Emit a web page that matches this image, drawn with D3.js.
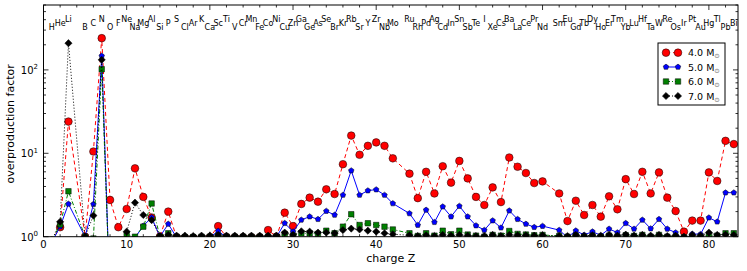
<!DOCTYPE html>
<html>
<head>
<meta charset="utf-8">
<script src="https://cdn.jsdelivr.net/npm/d3@7"></script>
<style>
  body { margin: 0; background: #fff; }
  text { font-family: "DejaVu Sans", sans-serif; }
</style>
</head>
<body>
<svg></svg>
<script>
// Figure size and plot box
const width = 747, height = 271;
const margin = { top: 5, right: 9, bottom: 34.3, left: 43.5 };

// Charge numbers (Be, Tc, Pm are absent) and element symbols
const charge = [1, 2, 3, 5, 6, 7, 8, 9, 10, 11, 12, 13, 14, 15, 16, 17, 18, 19, 20,
  21, 22, 23, 24, 25, 26, 27, 28, 29, 30, 31, 32, 33, 34, 35, 36, 37, 38, 39, 40,
  41, 42, 44, 45, 46, 47, 48, 49, 50, 51, 52, 53, 54, 55, 56, 57, 58, 59, 60,
  62, 63, 64, 65, 66, 67, 68, 69, 70, 71, 72, 73, 74, 75, 76, 77, 78, 79, 80,
  81, 82, 83];
const symbols = ["H", "He", "Li", "B", "C", "N", "O", "F", "Ne", "Na", "Mg", "Al",
  "Si", "P", "S", "Cl", "Ar", "K", "Ca", "Sc", "Ti", "V", "Cr", "Mn", "Fe", "Co",
  "Ni", "Cu", "Zn", "Ga", "Ge", "As", "Se", "Br", "Kr", "Rb", "Sr", "Y", "Zr",
  "Nb", "Mo", "Ru", "Rh", "Pd", "Ag", "Cd", "In", "Sn", "Sb", "Te", "I", "Xe",
  "Cs", "Ba", "La", "Ce", "Pr", "Nd", "Sm", "Eu", "Gd", "Tb", "Dy", "Ho", "Er",
  "Tm", "Yb", "Lu", "Hf", "Ta", "W", "Re", "Os", "Ir", "Pt", "Au", "Hg", "Tl",
  "Pb", "Bi"];

// Overproduction factors, one array per model
const m40 = [0.9, 1.3, 24, 1.0, 10.5, 240, 2.76, 1.3, 2.15, 6.6, 3.0, 1.7, 1.0, 2.0,
  0.98, 0.97, 0.97, 0.97, 0.98, 1.34, 0.99, 0.98, 0.98, 0.98, 0.98, 1.2, 1.0,
  1.94, 1.34, 2.47, 2.94, 2.63, 3.7, 3.25, 7.4, 16.3, 9.6, 12.3, 13.5, 12.3, 8.7,
  5.7, 2.9, 6.0, 3.3, 7.0, 4.45, 8.1, 5.0, 3.0, 2.4, 3.9, 2.6, 8.9, 6.9, 5.8, 4.4, 4.6,
  3.3, 1.54, 2.7, 1.82, 2.4, 1.74, 3.05, 2.13, 4.9, 3.25, 6.0, 3.3, 5.9, 2.94, 2.03,
  1.15, 1.56, 1.56, 5.9, 4.66, 14.1, 12.9];
const m50 = [0.86, 1.32, 2.47, 1.0, 2.45, 147, 0.17, 0.4, 0.8, 0.97, 1.35, 1.7, 1.0, 1.42,
  0.98, 0.97, 0.97, 0.97, 0.98, 1.17, 0.98, 0.98, 0.98, 0.98, 0.98, 1.02, 0.99,
  1.45, 1.15, 1.59, 1.74, 1.62, 2.03, 1.82, 3.16, 6.2, 3.16, 3.57, 3.67, 3.16, 2.5,
  1.9, 1.38, 2.09, 1.49, 2.29, 1.74, 2.33, 1.74, 1.36, 1.2, 1.56, 1.28, 2.05, 1.62, 1.42, 1.3, 1.34,
  1.2, 0.98, 1.18, 1.05, 1.15, 1.04, 1.24, 1.12, 1.45, 1.24, 1.59, 1.25, 1.62, 1.24, 1.12,
  0.9, 1.08, 1.07, 1.69, 1.51, 3.37, 3.37];
const m60 = [0.9, 1.4, 3.5, 1.0, 0.95, 102, 0.17, 0.4, 1.07, 1.0, 1.32, 2.5, 1.0, 1.1,
  1.0, 0.99, 0.99, 1.0, 1.0, 1.03, 1.0, 1.0, 1.0, 1.0, 1.0, 1.0, 1.0,
  1.08, 1.03, 1.1, 1.1, 1.08, 1.18, 1.1, 1.32, 1.86, 1.38, 1.45, 1.38, 1.32, 1.22,
  1.1, 1.02, 1.1, 1.03, 1.18, 1.07, 1.18, 1.06, 1.03, 1.0, 1.05, 1.03, 1.17, 1.08, 1.06, 1.04, 1.05,
  1.02, 1.0, 1.03, 1.0, 1.02, 1.0, 1.03, 1.0, 1.04, 1.02, 1.05, 1.0, 1.05, 1.0, 1.0,
  0.98, 1.0, 1.0, 1.05, 1.03, 1.1, 1.1];
const m70 = [0.9, 1.51, 209, 1.0, 1.79, 132, 0.17, 0.5, 1.15, 2.56, 1.82, 1.58, 1.02, 1.05,
  1.03, 1.03, 1.02, 1.03, 1.03, 1.05, 1.03, 1.03, 1.03, 1.03, 1.03, 1.03, 1.03,
  1.12, 1.05, 1.16, 1.15, 1.12, 1.12, 1.1, 1.2, 1.25, 1.22, 1.18, 1.15, 1.1, 1.07,
  1.04, 1.02, 1.04, 1.02, 1.05, 1.03, 1.05, 1.03, 1.02, 1.02, 1.05, 1.02, 1.05, 1.04, 1.04, 1.03, 1.04,
  1.02, 1.02, 1.05, 1.02, 1.04, 1.02, 1.05, 1.03, 1.06, 1.03, 1.05, 1.03, 1.05, 1.02, 1.03,
  1.0, 1.05, 1.03, 1.12, 1.05, 1.06, 1.05];

const masses = ["4.0", "5.0", "6.0", "7.0"];
const xTicks = [0, 10, 20, 30, 40, 50, 60, 70, 80];
const yTicks = [1, 10, 100];

const svg = d3.select("svg")
    .attr("width", width)
    .attr("height", height);

const x = d3.scaleLinear().domain([0, 83.5]).range([margin.left, width - margin.right]);
const y = d3.scaleLog().domain([1, 600]).range([height - margin.bottom, margin.top]);

// pentagon marker (matplotlib 'p')
function pentagon(r) {
    const pts = d3.range(5).map(i => {
        const a = -Math.PI / 2 + i * 2 * Math.PI / 5;
        return [r * Math.cos(a), r * Math.sin(a)];
    });
    return "M" + pts.map(p => p.join(",")).join("L") + "Z";
}

const series = [
    { values: m40, color: "#ff0000", dash: "4,3", shape: d3.symbol(d3.symbolCircle, 46)(), rot: 0 },
    { values: m50, color: "#0000ff", dash: null, shape: pentagon(2.9), rot: 0 },
    { values: m60, color: "#008000", dash: "4,2,1,2", shape: d3.symbol(d3.symbolSquare, 30)(), rot: 0 },
    { values: m70, color: "#000000", dash: "1,2", shape: d3.symbol(d3.symbolSquare, 26)(), rot: 45 }
];

svg.append("clipPath").attr("id", "plot")
  .append("rect")
    .attr("x", margin.left).attr("y", margin.top)
    .attr("width", width - margin.right - margin.left)
    .attr("height", height - margin.bottom - margin.top);

const plot = svg.append("g").attr("clip-path", "url(#plot)");

const line = d3.line()
    .x((d, i) => x(charge[i]))
    .y(d => y(d));

series.forEach(s => {
    plot.append("path")
        .attr("d", line(s.values))
        .attr("fill", "none")
        .attr("stroke", s.color)
        .attr("stroke-width", 1)
        .attr("stroke-dasharray", s.dash);
    plot.append("g").selectAll("path")
        .data(s.values)
        .join("path")
        .attr("d", s.shape)
        .attr("transform", (d, i) => `translate(${x(charge[i])},${y(d)}) rotate(${s.rot})`)
        .attr("fill", s.color)
        .attr("stroke", "#000")
        .attr("stroke-width", 0.5);
});

// element labels, staggered on three levels
const levels = [30, 26, 21.7];
svg.append("g").selectAll("text")
    .data(symbols)
    .join("text")
    .attr("x", (d, i) => x(charge[i]))
    .attr("y", (d, i) => levels[i % 3])
    .attr("text-anchor", "middle")
    .attr("font-size", 8)
    .text(d => d);

// frame
const x0 = margin.left, x1 = width - margin.right, y0 = height - margin.bottom, y1 = margin.top;
svg.append("rect")
    .attr("x", x0).attr("y", y1)
    .attr("width", x1 - x0).attr("height", y0 - y1)
    .attr("fill", "none").attr("stroke", "#000").attr("stroke-width", 1);

// ticks, inward on all sides
const ticks = svg.append("g").attr("stroke", "#000").attr("stroke-width", 0.8);
const xMinor = d3.range(0, 84, 2).filter(v => v % 10 !== 0);
const yMinor = [];
[1, 10, 100].forEach(b => d3.range(2, 10).forEach(k => { if (b * k <= 600) yMinor.push(b * k); }));

function xTick(v, len) {
    ticks.append("line").attr("x1", x(v)).attr("x2", x(v)).attr("y1", y0).attr("y2", y0 - len);
    ticks.append("line").attr("x1", x(v)).attr("x2", x(v)).attr("y1", y1).attr("y2", y1 + len);
}
function yTick(v, len) {
    ticks.append("line").attr("y1", y(v)).attr("y2", y(v)).attr("x1", x0).attr("x2", x0 + len);
    ticks.append("line").attr("y1", y(v)).attr("y2", y(v)).attr("x1", x1).attr("x2", x1 - len);
}
xTicks.forEach(v => xTick(v, 5));
xMinor.forEach(v => xTick(v, 2.5));
yTicks.forEach(v => yTick(v, 5));
yMinor.forEach(v => yTick(v, 2.5));

// tick labels
svg.append("g").selectAll("text")
    .data(xTicks)
    .join("text")
    .attr("x", d => x(d))
    .attr("y", y0 + 11.5)
    .attr("text-anchor", "middle")
    .attr("font-size", 10)
    .text(d => d);

const yl = svg.append("g").selectAll("text")
    .data(yTicks)
    .join("text")
    .attr("x", x0 - 5.5)
    .attr("y", d => y(d) + 4)
    .attr("text-anchor", "end")
    .attr("font-size", 10);
yl.append("tspan").text("10");
yl.append("tspan").attr("dy", -4.5).attr("font-size", 7).text(d => Math.round(Math.log10(d)));

// axis titles
svg.append("text")
    .attr("transform", `translate(14,${(y0 + y1) / 2 + 3}) rotate(-90)`)
    .attr("text-anchor", "middle")
    .attr("font-size", 11)
    .text("overproduction factor");

svg.append("text")
    .attr("x", (x0 + x1) / 2)
    .attr("y", 262)
    .attr("text-anchor", "middle")
    .attr("font-size", 11)
    .text("charge Z");

// legend
const legend = svg.append("g");
legend.append("rect")
    .attr("x", 658).attr("y", 43)
    .attr("width", 67).attr("height", 62)
    .attr("fill", "#fff").attr("stroke", "#000").attr("stroke-width", 1);

const rows = [52.7, 67, 81.5, 96];
series.forEach((s, i) => {
    const g = legend.append("g").attr("transform", `translate(0,${rows[i]})`);
    g.append("line")
        .attr("x1", 666).attr("x2", 678)
        .attr("stroke", s.color).attr("stroke-width", 1)
        .attr("stroke-dasharray", s.dash);
    [666, 678].forEach(px => g.append("path")
        .attr("d", s.shape)
        .attr("transform", `translate(${px},0) rotate(${s.rot})`)
        .attr("fill", s.color)
        .attr("stroke", "#000")
        .attr("stroke-width", 0.5));
    const t = g.append("text")
        .attr("x", 688).attr("y", 3.5)
        .attr("font-size", 9.5);
    t.append("tspan").text(masses[i] + " M");
    t.append("tspan").attr("dy", 2).attr("font-size", 6.5).attr("fill", "#666").text("\u2299");
});
</script>
</body>
</html>
